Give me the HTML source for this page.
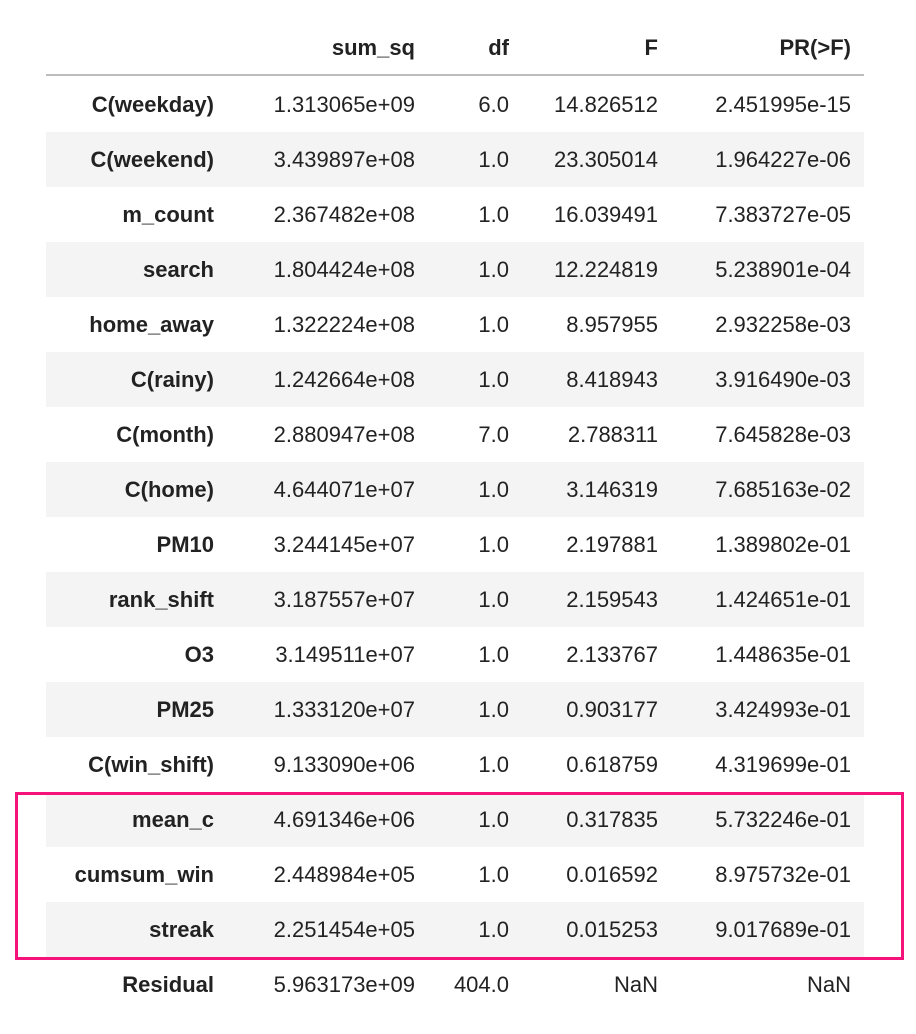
<!DOCTYPE html>
<html><head><meta charset="utf-8">
<style>
body{margin:0;width:916px;height:1034px;background:#fff;font-family:"Liberation Sans",sans-serif;color:#222;position:relative;overflow:hidden}
.c{position:absolute;white-space:nowrap;font-size:22px;line-height:55px;height:55px;text-align:right}
.b{font-weight:bold}
.row{position:absolute;left:46px;width:818px;height:55px}
</style></head><body>
<div id="tbl"></div>
<div style="position:absolute;left:46px;top:74px;width:818px;height:2px;background:#bdbdbd"></div>
<div style="position:absolute;left:15px;top:792px;width:883px;height:162px;border:3px solid #f5127a"></div>
<script>
const headers=["sum_sq","df","F","PR(>F)"];
const labels=["C(weekday)","C(weekend)","m_count","search","home_away","C(rainy)","C(month)","C(home)","PM10","rank_shift","O3","PM25","C(win_shift)","mean_c","cumsum_win","streak","Residual"];
const sumSq=["1.313065e+09","3.439897e+08","2.367482e+08","1.804424e+08","1.322224e+08","1.242664e+08","2.880947e+08","4.644071e+07","3.244145e+07","3.187557e+07","3.149511e+07","1.333120e+07","9.133090e+06","4.691346e+06","2.448984e+05","2.251454e+05","5.963173e+09"];
const dfv=["6.0","1.0","1.0","1.0","1.0","1.0","7.0","1.0","1.0","1.0","1.0","1.0","1.0","1.0","1.0","1.0","404.0"];
const fv=["14.826512","23.305014","16.039491","12.224819","8.957955","8.418943","2.788311","3.146319","2.197881","2.159543","2.133767","0.903177","0.618759","0.317835","0.016592","0.015253","NaN"];
const pv=["2.451995e-15","1.964227e-06","7.383727e-05","5.238901e-04","2.932258e-03","3.916490e-03","7.645828e-03","7.685163e-02","1.389802e-01","1.424651e-01","1.448635e-01","3.424993e-01","4.319699e-01","5.732246e-01","8.975732e-01","9.017689e-01","NaN"];
const rights=[214,415,509,658,851];
const tbl=document.getElementById('tbl');
function cell(txt,right,top,bold,name){
  const d=document.createElement('div');
  d.className='c'+(bold?' b':'');
  d.style.right=(916-right)+'px';d.style.top=top+'px';
  d.textContent=txt;
  
  
  tbl.appendChild(d);
}
headers.forEach((h,i)=>{cell(h,rights[i+1],20,true,'column-header');});
labels.forEach((l,r)=>{
  const top=77+r*55;
  if(r%2===1){
    const bg=document.createElement('div');
    bg.className='row';bg.style.top=top+'px';bg.style.background='#f4f4f4';
    
    
    tbl.appendChild(bg);
  }
  cell(l,rights[0],top,true,'row-label');
  cell(sumSq[r],rights[1],top,false,'sum-sq-cell');
  cell(dfv[r],rights[2],top,false,'df-cell');
  cell(fv[r],rights[3],top,false,'f-cell');
  cell(pv[r],rights[4],top,false,'p-value-cell');
});
</script>
</body></html>
